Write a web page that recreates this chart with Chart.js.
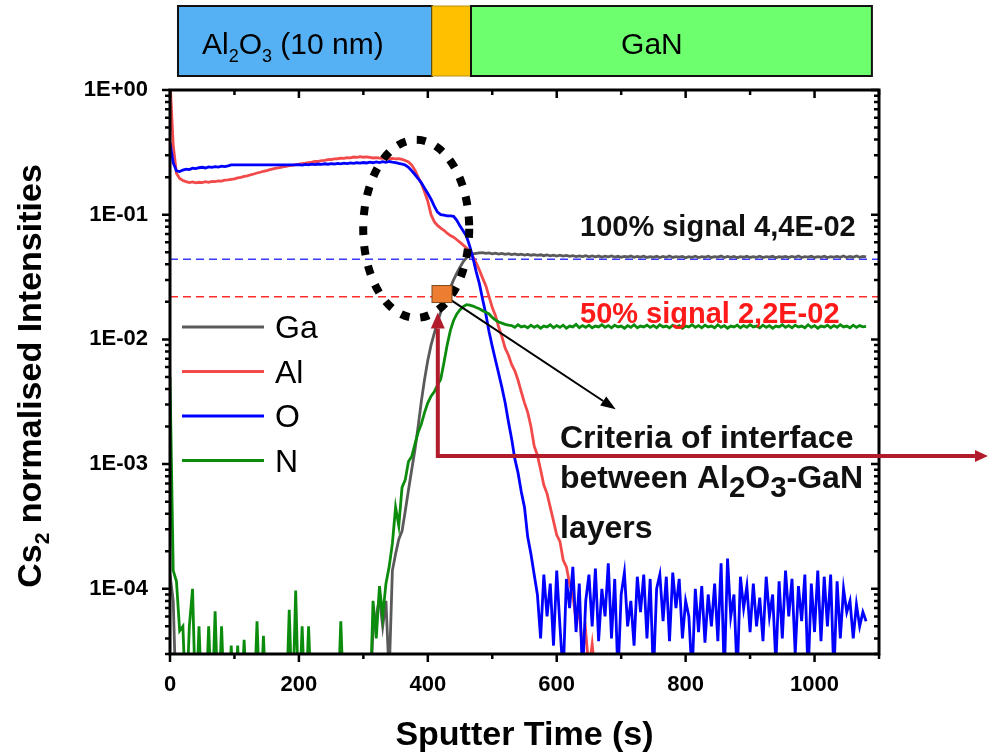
<!DOCTYPE html>
<html>
<head>
<meta charset="utf-8">
<script src="https://cdn.jsdelivr.net/npm/chart.js@4/dist/chart.umd.min.js"></script>
<style>
  html, body { margin: 0; padding: 0; background: #fff; }
  #wrap { width: 989px; height: 754px; position: relative; }
</style>
</head>
<body>
<div id="wrap"><canvas id="chart"></canvas></div>
<script>
"use strict";

// Sputter time (s), one sample every 5 s
const time = [
  0, 5, 10, 15, 20, 25, 30, 35, 40, 45,
  50, 55, 60, 65, 70, 75, 80, 85, 90, 95,
  100, 105, 110, 115, 120, 125, 130, 135, 140, 145,
  150, 155, 160, 165, 170, 175, 180, 185, 190, 195,
  200, 205, 210, 215, 220, 225, 230, 235, 240, 245,
  250, 255, 260, 265, 270, 275, 280, 285, 290, 295,
  300, 305, 310, 315, 320, 325, 330, 335, 340, 345,
  350, 355, 360, 365, 370, 375, 380, 385, 390, 395,
  400, 405, 410, 415, 420, 425, 430, 435, 440, 445,
  450, 455, 460, 465, 470, 475, 480, 485, 490, 495,
  500, 505, 510, 515, 520, 525, 530, 535, 540, 545,
  550, 555, 560, 565, 570, 575, 580, 585, 590, 595,
  600, 605, 610, 615, 620, 625, 630, 635, 640, 645,
  650, 655, 660, 665, 670, 675, 680, 685, 690, 695,
  700, 705, 710, 715, 720, 725, 730, 735, 740, 745,
  750, 755, 760, 765, 770, 775, 780, 785, 790, 795,
  800, 805, 810, 815, 820, 825, 830, 835, 840, 845,
  850, 855, 860, 865, 870, 875, 880, 885, 890, 895,
  900, 905, 910, 915, 920, 925, 930, 935, 940, 945,
  950, 955, 960, 965, 970, 975, 980, 985, 990, 995,
  1000, 1005, 1010, 1015, 1020, 1025, 1030, 1035, 1040, 1045,
  1050, 1055, 1060, 1065, 1070, 1075, 1080
];

// Ga signal
const ga = [
  1.3e-4, 8e-5, 1e-5, 1e-5, 1e-5, 1e-5, 1e-5, 1e-5, 1e-5, 1e-5,
  1e-5, 1e-5, 1e-5, 1e-5, 1e-5, 1e-5, 1e-5, 1e-5, 1e-5, 1e-5,
  1e-5, 1e-5, 1e-5, 1e-5, 1e-5, 1e-5, 1e-5, 1e-5, 1e-5, 1e-5,
  1e-5, 1e-5, 1e-5, 1e-5, 1e-5, 1e-5, 1e-5, 1e-5, 1e-5, 1e-5,
  1e-5, 1e-5, 1e-5, 1e-5, 1e-5, 1e-5, 1e-5, 1e-5, 1e-5, 1e-5,
  1e-5, 1e-5, 1e-5, 1e-5, 1e-5, 1e-5, 1e-5, 1e-5, 1e-5, 1e-5,
  1e-5, 1e-5, 1e-5, 5e-5, 6e-5, 8.5e-5, 5e-5, 8e-5, 2e-5, 1.4e-4,
  1.9e-4, 2.5e-4, 2.9e-4, 4.2e-4, 6.2e-4, 9e-4, 1.3e-3, 2e-3, 3.2e-3, 4.8e-3,
  6.8e-3, 9e-3, 0.0112, 0.0138, 0.0165, 0.0195, 0.0225, 0.026, 0.03, 0.034,
  0.038, 0.042, 0.045, 0.0475, 0.0485, 0.049, 0.0495, 0.0497, 0.0489, 0.0494,
  0.0486, 0.0492, 0.0484, 0.049, 0.0481, 0.0487, 0.0479, 0.0485, 0.0477, 0.0483,
  0.0475, 0.0481, 0.0473, 0.0479, 0.0472, 0.0477, 0.0469, 0.0476, 0.0468, 0.0474,
  0.0466, 0.0473, 0.0465, 0.0471, 0.0463, 0.047, 0.0462, 0.0468, 0.0461, 0.0469,
  0.046, 0.0467, 0.0459, 0.0466, 0.0458, 0.0465, 0.0459, 0.0467, 0.0457, 0.0464,
  0.0456, 0.0463, 0.0458, 0.0466, 0.0455, 0.0462, 0.0457, 0.0465, 0.0454, 0.0461,
  0.0456, 0.0464, 0.0453, 0.0462, 0.0455, 0.0466, 0.0454, 0.0461, 0.0457, 0.0463,
  0.0452, 0.046, 0.0455, 0.0464, 0.0453, 0.0461, 0.0456, 0.0465, 0.0454, 0.046,
  0.0457, 0.0466, 0.0453, 0.0462, 0.0455, 0.0463, 0.0452, 0.0461, 0.0456, 0.0464,
  0.0454, 0.046, 0.0455, 0.0465, 0.0453, 0.0461, 0.0457, 0.0464, 0.0452, 0.046,
  0.0456, 0.0463, 0.0454, 0.0462, 0.0455, 0.0466, 0.0453, 0.0461, 0.0457, 0.0464,
  0.0454, 0.0461, 0.0456, 0.0465, 0.0453, 0.046, 0.0457, 0.0463, 0.0455, 0.0466,
  0.0454, 0.0462, 0.0456, 0.0467, 0.0455, 0.0463, 0.0458
];

// Al signal (drops out of range after ~660 s)
const al = [
  1.2, 0.36, 0.215, 0.195, 0.188, 0.184, 0.181, 0.183, 0.180, 0.182,
  0.181, 0.184, 0.182, 0.185, 0.184, 0.187, 0.186, 0.189, 0.19, 0.192,
  0.194, 0.197, 0.199, 0.203, 0.205, 0.209, 0.212, 0.216, 0.219, 0.223,
  0.226, 0.23, 0.233, 0.236, 0.239, 0.242, 0.244, 0.247, 0.249, 0.252,
  0.254, 0.257, 0.259, 0.262, 0.264, 0.267, 0.268, 0.271, 0.273, 0.276,
  0.277, 0.28, 0.281, 0.284, 0.283, 0.287, 0.286, 0.29, 0.288, 0.292,
  0.289, 0.291, 0.288, 0.285, 0.287, 0.284, 0.283, 0.285, 0.282, 0.283,
  0.28, 0.281, 0.278, 0.272, 0.265, 0.25, 0.228, 0.2, 0.178, 0.152,
  0.128, 0.1, 0.088, 0.082, 0.078, 0.075, 0.071, 0.068, 0.066, 0.063,
  0.06, 0.057, 0.054, 0.05, 0.046, 0.041, 0.036, 0.031, 0.027, 0.022,
  0.018, 0.0155, 0.0125, 0.0105, 0.0085, 0.0075, 0.0063, 0.0056, 0.0047, 0.0038,
  0.0031, 0.0026, 0.002, 0.0014, 0.00118, 0.0009, 0.00068, 0.00058, 0.00045, 0.00035,
  0.00027, 0.00024, 0.00017, 0.00015, 0.00011, 0.00009, 0.000055, 0.000065, 0.000032, 0.000045,
  0.000022, 0.000036, 0.00002, 0.00001
];

// O signal
const ox = [
  0.38, 0.26, 0.225, 0.222, 0.228, 0.232, 0.23, 0.236, 0.234, 0.238,
  0.24, 0.237, 0.242, 0.24, 0.243, 0.241, 0.245, 0.243, 0.246, 0.251,
  0.251, 0.251, 0.251, 0.251, 0.251, 0.251, 0.251, 0.251, 0.251, 0.251,
  0.251, 0.251, 0.251, 0.251, 0.251, 0.251, 0.251, 0.251, 0.251, 0.251,
  0.252, 0.25, 0.253, 0.251, 0.254, 0.252, 0.255, 0.253, 0.256, 0.254,
  0.257, 0.255, 0.258, 0.256, 0.259, 0.257, 0.26, 0.258, 0.261, 0.259,
  0.262, 0.26, 0.264, 0.261, 0.265, 0.262, 0.266, 0.263, 0.267, 0.264,
  0.262, 0.258, 0.255, 0.25, 0.24, 0.225, 0.21, 0.195, 0.18, 0.163,
  0.148, 0.133, 0.117, 0.105, 0.1, 0.099, 0.098, 0.098, 0.097, 0.09,
  0.081, 0.074, 0.067, 0.056, 0.045, 0.035, 0.028, 0.021, 0.016, 0.0115,
  0.0088, 0.0068, 0.0053, 0.0041, 0.0031, 0.0022, 0.0016, 0.0011, 0.00085, 0.0006,
  0.00045, 0.00026, 0.00019, 0.00013, 9e-5, 4e-5, 1.3e-4, 6e-5, 1.1e-4, 3.5e-5,
  1.4e-4, 5e-5, 2e-5, 1.2e-4, 7e-5, 1.5e-4, 4.5e-5, 1.1e-4, 2e-5, 8e-5,
  1.3e-4, 5e-5, 1.45e-4, 3.8e-5, 1e-4, 6e-5, 1.6e-4, 4e-5, 1.2e-4, 2e-5,
  9e-5, 1.35e-4, 5e-5, 8e-5, 3.5e-5, 1.25e-4, 6.5e-5, 1.3e-4, 4e-5, 1.2e-4,
  2e-5, 1e-4, 1.3e-4, 5.5e-5, 1.25e-4, 3.8e-5, 1.35e-4, 7e-5, 1.2e-4, 4e-5,
  8e-5, 6e-5, 2e-5, 1e-4, 4.5e-5, 1.05e-4, 3.7e-5, 9e-5, 5e-5, 1.1e-4,
  3.8e-5, 1.6e-4, 2e-5, 1.75e-4, 6e-5, 9e-5, 2e-5, 1.25e-4, 7e-5, 1.05e-4,
  4.5e-5, 1.1e-4, 5e-5, 8.5e-5, 3.8e-5, 1.25e-4, 6e-5, 9e-5, 2.5e-5, 1.15e-4,
  4e-5, 1.4e-4, 6e-5, 1.2e-4, 3e-5, 1.05e-4, 5.5e-5, 1.3e-4, 2e-5, 1.1e-4,
  4.5e-5, 1.4e-4, 3.8e-5, 1.25e-4, 5e-5, 1.3e-4, 2e-5, 1.15e-4, 4e-5, 1e-4,
  6.5e-5, 8e-5, 4e-5, 7.5e-5, 5e-5, 6.5e-5, 5.5e-5
];

// N signal
const ni = [
  5e-3, 1.4e-4, 1.15e-4, 4.6e-5, 5e-5, 1e-5, 5e-5, 1e-4, 1e-5, 5e-5,
  1e-5, 1e-5, 5e-5, 1e-5, 6.6e-5, 1e-5, 5e-5, 1e-5, 1e-5, 3.5e-5,
  1e-5, 3.5e-5, 1e-5, 3.9e-5, 1e-5, 1e-5, 1e-5, 5.5e-5, 1e-5, 4.2e-5,
  1e-5, 1e-5, 1e-5, 1e-5, 1e-5, 1e-5, 1e-5, 6.8e-5, 1e-5, 9.7e-5,
  1e-5, 5e-5, 1e-5, 5e-5, 1e-5, 1e-5, 1e-5, 1e-5, 1e-5, 1e-5,
  1e-5, 1e-5, 1e-5, 5.5e-5, 1e-5, 1e-5, 1e-5, 1e-5, 1e-5, 1e-5,
  1e-5, 1e-5, 1e-5, 8e-5, 4e-5, 1.05e-4, 6e-5, 1.1e-4, 1.5e-4, 2.3e-4,
  4.5e-4, 3.2e-4, 6.5e-4, 7.5e-4, 1.05e-3, 1.15e-3, 1.45e-3, 1.8e-3, 2.1e-3, 2.6e-3,
  3.1e-3, 3.5e-3, 3.8e-3, 4.3e-3, 4.8e-3, 6.5e-3, 9e-3, 0.0118, 0.0142, 0.016,
  0.0173, 0.0183, 0.019, 0.0188, 0.0185, 0.018, 0.0176, 0.017, 0.0165, 0.016,
  0.015, 0.0143, 0.0138, 0.0135, 0.0132, 0.013, 0.0129, 0.0125, 0.0131, 0.0126,
  0.0128, 0.0124, 0.013, 0.0125, 0.0129, 0.0123, 0.0128, 0.0126, 0.0131, 0.0124,
  0.0129, 0.0125, 0.013, 0.0123, 0.0128, 0.0126, 0.0132, 0.0124, 0.0129, 0.0125,
  0.013, 0.0124, 0.0128, 0.0126, 0.0131, 0.0125, 0.0129, 0.0124, 0.013, 0.0126,
  0.0128, 0.0123, 0.0129, 0.0125, 0.0131, 0.0124, 0.0128, 0.0126, 0.013, 0.0125,
  0.0129, 0.0124, 0.0131, 0.0126, 0.0128, 0.0124, 0.013, 0.0125, 0.0129, 0.0123,
  0.0128, 0.0126, 0.0131, 0.0125, 0.0129, 0.0124, 0.013, 0.0126, 0.0128, 0.0124,
  0.0131, 0.0125, 0.0129, 0.0123, 0.0128, 0.0126, 0.013, 0.0124, 0.0129, 0.0125,
  0.0131, 0.0126, 0.0128, 0.0124, 0.013, 0.0125, 0.0129, 0.0123, 0.0128, 0.0126,
  0.0131, 0.0125, 0.0129, 0.0124, 0.013, 0.0126, 0.0128, 0.0124, 0.0131, 0.0125,
  0.0129, 0.0123, 0.0128, 0.0126, 0.013, 0.0124, 0.0129, 0.0125, 0.0131, 0.0126,
  0.0128, 0.0124, 0.013, 0.0125, 0.0129, 0.0126, 0.0127
];

const seriesNames = ['Ga', 'Al', 'O', 'N'];
const seriesColors = ['#5A5A5A', '#F24A4A', '#0000FF', '#0C8C0C'];

const xTicks = [0, 200, 400, 600, 800, 1000];
const yTicks = [1e-4, 1e-3, 1e-2, 1e-1, 1];

// layer band on top (start / end in sputter time)
const layerNames = ['Al2O3 (10 nm)', '', 'GaN'];
const layerStart = [12.4, 406.5, 467];
const layerEnd = [406.5, 467, 1089];
const layerColors = ['#55B1F4', '#FFC000', '#6DFF6D'];

// signal levels
const fullSignal = 0.044;
const halfSignal = 0.022;

const FONT = '"Liberation Sans", Arial, sans-serif';
function font(size, bold) { return (bold ? 'bold ' : '') + size + 'px ' + FONT; }

function points(values) {
  return values.map(function(v, i) { return { x: time[i], y: v }; });
}

// draws text made of [string, isSub] parts
function richText(ctx, parts, x, y, size, bold, align, subScale, subDy) {
  let total = 0;
  parts.forEach(function(p) {
    ctx.font = font(p[1] ? size * subScale : size, bold);
    total += ctx.measureText(p[0]).width;
  });
  let cx = align === 'center' ? x - total / 2 : (align === 'right' ? x - total : x);
  ctx.textAlign = 'left';
  ctx.textBaseline = 'alphabetic';
  parts.forEach(function(p) {
    ctx.font = font(p[1] ? size * subScale : size, bold);
    ctx.fillText(p[0], cx, y + (p[1] ? subDy : 0));
    cx += ctx.measureText(p[0]).width;
  });
}

function arrowHead(ctx, x1, y1, x2, y2, head, half) {
  const ang = Math.atan2(y2 - y1, x2 - x1);
  const bx = x2 - head * Math.cos(ang), by = y2 - head * Math.sin(ang);
  ctx.beginPath();
  ctx.moveTo(x2, y2);
  ctx.lineTo(bx + half * Math.sin(ang), by - half * Math.cos(ang));
  ctx.lineTo(bx - half * Math.sin(ang), by + half * Math.cos(ang));
  ctx.closePath();
  ctx.fill();
  return [bx, by];
}

const decorPlugin = {
  id: 'decor',

  beforeDatasetsDraw(chart) {
    const ctx = chart.ctx, a = chart.chartArea, y = chart.scales.y;
    ctx.save();
    ctx.lineWidth = 1.5;
    ctx.setLineDash([8, 5]);
    [[fullSignal, '#3A3AFF'], [halfSignal, '#FF2A2A']].forEach(function(l) {
      const py = y.getPixelForValue(l[0]);
      ctx.strokeStyle = l[1];
      ctx.beginPath(); ctx.moveTo(a.left, py); ctx.lineTo(a.right, py); ctx.stroke();
    });
    ctx.restore();
  },

  afterDraw(chart) {
    const ctx = chart.ctx, a = chart.chartArea;
    const x = chart.scales.x, y = chart.scales.y;
    ctx.save();

    // frame
    ctx.strokeStyle = '#000';
    ctx.lineWidth = 3;
    ctx.strokeRect(a.left, a.top, a.right - a.left, a.bottom - a.top);

    // ticks: out on left / bottom, in on top / right
    ctx.lineWidth = 2.5;
    ctx.beginPath();
    for (let t = 0; t <= 1100; t += 100) {
      const px = x.getPixelForValue(t);
      const len = t % 200 === 0 ? 8 : 5;
      ctx.moveTo(px, a.bottom); ctx.lineTo(px, a.bottom + len);
      ctx.moveTo(px, a.top); ctx.lineTo(px, a.top + len);
    }
    for (let d = -5; d <= 0; d++) {
      for (let m = 1; m <= 9; m++) {
        const v = m * Math.pow(10, d);
        if (v < 3e-5 || v > 1.0001) continue;
        const py = y.getPixelForValue(v);
        const len = m === 1 ? 8 : 5;
        ctx.moveTo(a.left, py); ctx.lineTo(a.left - len, py);
        ctx.moveTo(a.right, py); ctx.lineTo(a.right - len, py);
      }
    }
    ctx.stroke();

    // layer band
    const bandTop = 6, bandBottom = 76;
    layerStart.forEach(function(s, i) {
      const x1 = x.getPixelForValue(s), x2 = x.getPixelForValue(layerEnd[i]);
      ctx.fillStyle = layerColors[i];
      ctx.fillRect(x1, bandTop, x2 - x1, bandBottom - bandTop);
      ctx.lineWidth = i === 1 ? 1 : 2;
      ctx.strokeStyle = i === 1 ? '#B8900A' : '#111';
      ctx.strokeRect(x1, bandTop, x2 - x1, bandBottom - bandTop);
    });
    ctx.fillStyle = '#000';
    richText(ctx, [['Al', 0], ['2', 1], ['O', 0], ['3', 1], [' (10 nm)', 0]],
      x.getPixelForValue(49.6), 54, 30, false, 'left', 0.6, 8);
    richText(ctx, [[layerNames[2], 0]], x.getPixelForValue(747.7), 54, 30, false, 'center', 1, 0);

    // axis titles
    richText(ctx, [['Sputter Time (s)', 0]], (a.left + a.right) / 2, 745, 34, true, 'center', 1, 0);
    ctx.save();
    ctx.translate(41, 376);
    ctx.rotate(-Math.PI / 2);
    richText(ctx, [['Cs', 0], ['2', 1], [' normalised Intensities', 0]], 0, 0, 34, true, 'center', 0.62, 8);
    ctx.restore();

    // legend
    seriesNames.forEach(function(n, i) {
      const ly = a.top + 237 + i * 44.5;
      ctx.strokeStyle = seriesColors[i];
      ctx.lineWidth = 3;
      ctx.beginPath(); ctx.moveTo(a.left + 12, ly); ctx.lineTo(a.left + 94, ly); ctx.stroke();
      ctx.fillStyle = '#000';
      richText(ctx, [[n, 0]], a.left + 105, ly + 11, 32, false, 'left', 1, 0);
    });

    // dotted ellipse around the interface
    ctx.strokeStyle = '#000';
    ctx.lineWidth = 8;
    ctx.setLineDash([9, 11]);
    ctx.beginPath();
    ctx.ellipse(x.getPixelForValue(382), y.getPixelForValue(0.077), 53, 89, 0, 0, Math.PI * 2);
    ctx.stroke();
    ctx.setLineDash([]);

    // black arrow from the marker to the explanation
    const mx = x.getPixelForValue(422), my = y.getPixelForValue(0.0231);
    const ex = x.getPixelForValue(691.5), ey = y.getPixelForValue(0.00275);
    ctx.fillStyle = '#000';
    const b1 = arrowHead(ctx, mx, my, ex, ey, 15, 5.5);
    ctx.lineWidth = 2;
    ctx.beginPath(); ctx.moveTo(mx, my); ctx.lineTo(b1[0], b1[1]); ctx.stroke();

    // orange marker at 50 % signal
    ctx.fillStyle = '#ED7D31';
    ctx.strokeStyle = '#7A4A1E';
    ctx.lineWidth = 1;
    ctx.fillRect(mx - 10, my - 8.5, 20, 17);
    ctx.strokeRect(mx - 10, my - 8.5, 20, 17);

    // dark red arrows
    const rx = x.getPixelForValue(415.5);
    const rTop = y.getPixelForValue(0.0164), rMid = y.getPixelForValue(0.00116);
    const rEnd = x.getPixelForValue(1269);
    ctx.fillStyle = '#B11B2C';
    ctx.strokeStyle = '#B11B2C';
    const up = arrowHead(ctx, rx, rMid, rx, rTop, 16, 7);
    const right = arrowHead(ctx, rx, rMid, rEnd, rMid, 13, 6);
    ctx.lineWidth = 4;
    ctx.lineJoin = 'miter';
    ctx.beginPath();
    ctx.moveTo(up[0], up[1]); ctx.lineTo(rx, rMid); ctx.lineTo(right[0], right[1]);
    ctx.stroke();

    // annotation texts
    ctx.fillStyle = '#111';
    richText(ctx, [['100% signal 4,4E-02', 0]], 580, 236, 29, true, 'left', 1, 0);
    ctx.fillStyle = '#FF1A1A';
    richText(ctx, [['50% signal 2,2E-02', 0]], 580, 323, 29, true, 'left', 1, 0);
    ctx.fillStyle = '#111';
    richText(ctx, [['Criteria of interface', 0]], 560, 448, 32, true, 'left', 1, 0);
    richText(ctx, [['between Al', 0], ['2', 1], ['O', 0], ['3', 1], ['-GaN', 0]], 560, 488, 32, true, 'left', 0.92, 9);
    richText(ctx, [['layers', 0]], 560, 538, 32, true, 'left', 1, 0);

    ctx.restore();
  }
};

new Chart(document.getElementById('chart'), {
  type: 'line',
  data: {
    datasets: [ga, al, ox, ni].map(function(vals, i) {
      return {
        label: seriesNames[i],
        data: points(vals),
        borderColor: seriesColors[i],
        backgroundColor: seriesColors[i],
        borderWidth: 2.8,
        pointRadius: 0,
        tension: 0,
        fill: false,
        order: 3 - i
      };
    })
  },
  options: {
    responsive: true,
    maintainAspectRatio: false,
    animation: false,
    devicePixelRatio: 1,
    layout: { padding: { top: 90, right: 110, left: 0, bottom: 0 } },
    plugins: { legend: { display: false }, tooltip: { enabled: false } },
    scales: {
      x: {
        type: 'linear',
        min: 0,
        max: 1100,
        grid: { display: false, drawTicks: false },
        border: { display: false },
        ticks: {
          color: '#000',
          padding: 18,
          font: { family: FONT, size: 22, weight: 'bold' },
          callback: function(v) { return String(v); }
        },
        afterBuildTicks: function(s) { s.ticks = xTicks.map(function(v) { return { value: v }; }); },
        afterFit: function(s) { s.height = 100; }
      },
      y: {
        type: 'logarithmic',
        min: 3e-5,
        max: 1,
        grid: { display: false, drawTicks: false },
        border: { display: false },
        ticks: {
          color: '#000',
          padding: 22,
          font: { family: FONT, size: 22, weight: 'bold' },
          callback: function(v) {
            const e = Math.round(Math.log10(v));
            return '1E' + (e < 0 ? '-' : '+') + String(Math.abs(e)).padStart(2, '0');
          }
        },
        afterBuildTicks: function(s) { s.ticks = yTicks.map(function(v) { return { value: v }; }); },
        afterFit: function(s) { s.width = 170; }
      }
    }
  },
  plugins: [decorPlugin]
});
</script>
</body>
</html>
